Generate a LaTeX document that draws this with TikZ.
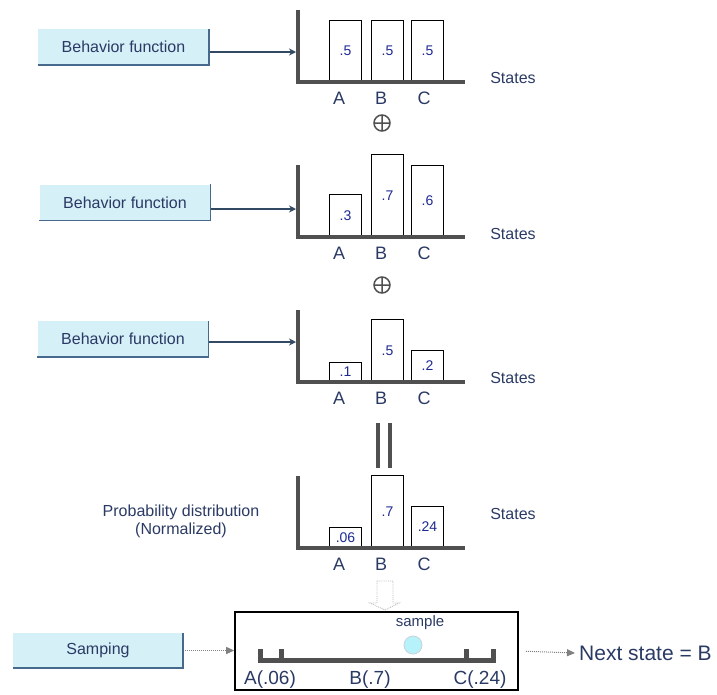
\documentclass[tikz,border=0pt]{standalone}
\usepackage{fontspec}
\setmainfont{Liberation Sans}
\usepackage{tikz}
\usetikzlibrary{arrows.meta,positioning}
\definecolor{bfill}{RGB}{214,240,248}
\definecolor{bedge}{RGB}{70,105,140}
\definecolor{ink}{RGB}{42,58,100}
\definecolor{axc}{RGB}{80,80,80}
\tikzset{
  fnbox/.style={fill=bfill,minimum width=171pt,minimum height=36pt,inner sep=0pt,text=ink,font=\fontsize{16}{18}\selectfont},
  bar/.style={draw=black,line width=1.3pt,fill=white,minimum width=32pt,inner sep=0pt,anchor=south,text=ink!70!blue,font=\fontsize{14}{16}\selectfont},
  axisline/.style={line width=4pt,axc,line join=miter},
  fnarrow/.style={-{Stealth[length=7pt,width=7pt]},line width=1.2pt,bedge!70!black},
  smparrow/.style={-{Triangle[length=8pt,width=7pt]},line width=1pt,gray,densely dotted},
  lbl/.style={text=ink,font=\fontsize{18}{20}\selectfont},
  txt/.style={text=ink,font=\fontsize{16}{18}\selectfont}
}
\begin{document}
\begin{tikzpicture}[x=1pt,y=-1pt]
  \useasboundingbox (0,0) rectangle (717,694);
  % the four histograms
  \foreach \p/\yb/\ha/\hb/\hc/\va/\vb/\vc/\sy in {1/82/61/61/61/.5/.5/.5/-4, 2/237/42/82/71/.3/.7/.6/-3, 3/382/19/62/31/.1/.5/.2/-4, 4/548/20/72/41/.06/.7/.24/-34} {
    \begin{scope}[shift={(0,\yb)}]
      \node[bar,minimum height=\ha pt] (a\p) at (345.5,0) {\va};
      \node[bar,minimum height=\hb pt] (b\p) at (387.5,0) {\vb};
      \node[bar,minimum height=\hc pt] (c\p) at (427.5,0) {\vc};
      \draw[axisline] (298,-72) -- (298,0) -- (465,0);
      \node[lbl] (la\p) at (339,16) {A};
      \node[lbl] (lb\p) at (381,16) {B};
      \node[lbl] (lc\p) at (424,16) {C};
      \node[txt] (st\p) at (513,\sy) {States};
    \end{scope}}
  \foreach \y in {123,285} {\draw[line width=1.5pt,axc] (382,\y) circle (8) (374,\y) -- (390,\y) (382,\y-8) -- (382,\y+8);}
  \draw[axisline] (378,423) -- (378,468) (390,423) -- (390,468);
  % behavior functions
  \node[fnbox] (bf1) at (123.5,47) {Behavior function};
  \node[fnbox] (bf2) at (125,202.5) {Behavior function};
  \node[fnbox] (bf3) at (123,339) {Behavior function};
  \coordinate (ax1) at (296,52);
  \coordinate (ax2) at (296,209);
  \coordinate (ax3) at (296,342);
  \foreach \n in {1,2,3} {\draw[fnarrow] (bf\n.east |- ax\n) -- (ax\n);}
  \node[txt,align=center] (pd) at (181,521) {Probability distribution\\(Normalized)};
  % sampling
  \draw[gray!55,densely dotted,line width=0.9pt] (377,581) -- (377,603) -- (370,603) -- (385,610) -- (399,603) -- (393,603) -- (393,581) -- cycle;
  \node[draw,line width=1.6pt,minimum width=283pt,minimum height=78pt,inner sep=0pt] (sb) at (376.5,651) {};
  \draw[axisline,line width=5pt] (260,649) -- (260,660) -- (493,660) -- (493,649) (281,649) -- (281,660) (466,649) -- (466,660);
  \node[circle,fill=bfill!85!cyan,draw=bedge!30,line width=0.8pt,minimum size=18pt,inner sep=0pt] (pick) at (413,645) {};
  \node[txt,font=\fontsize{15}{17}\selectfont] (smp) at (420,623) {sample};
  \node[lbl,font=\fontsize{19}{21}\selectfont] (ra) at (270,680) {A(.06)};
  \node[lbl,font=\fontsize{19}{21}\selectfont] (rb) at (370,680) {B(.7)};
  \node[lbl,font=\fontsize{19}{21}\selectfont] (rc) at (480,680) {C(.24)};
  \node[fnbox,minimum width=170pt,minimum height=35pt] (sm) at (98,650.5) {Samping};
  \node[lbl,font=\fontsize{21}{23}\selectfont,anchor=west,inner sep=4pt] (nx) at (575,653) {Next state = B};
  \draw[smparrow] (sm.east) -- (sm.east -| sb.west);
  \draw[smparrow,shorten <=7pt] (sb.east) -- (nx.west);
  \foreach \n in {bf1,bf2,bf3,sm} {\draw[line width=1.5pt,bedge] (\n.north east) -- (\n.south east) -- (\n.south west);}
\end{tikzpicture}
\end{document}
